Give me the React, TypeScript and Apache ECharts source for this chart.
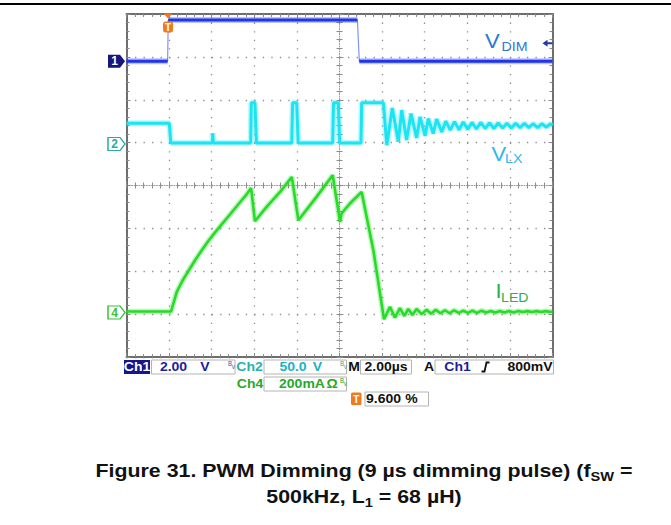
import React, { useEffect, useRef } from 'react';
import * as echarts from 'echarts';

// Time axis in µs (2 µs/div, 10 div), vertical in screen divisions (8 div)
const timeMin = 0;
const timeMax = 20;
const timeStep = 2;
const divMin = 0;
const divMax = 8;

// Ch1 – V_DIM (levels in divisions)
const ch1Time = [0, 1.93, 1.96, 10.84, 10.93, 20];
const ch1Level = [6.9, 6.9, 7.86, 7.86, 6.9, 6.9];

// Ch2 – V_LX
const ch2Points: [number, number][] = [
  [0, 5.45], [2.01, 5.45], [2.08, 4.99], [4.03, 4.99], [4.05, 5.22], [4.08, 4.99],
  [5.83, 4.99], [5.86, 5.93], [6.03, 5.93], [6.10, 4.99],
  [7.76, 4.99], [7.80, 5.93], [7.99, 5.93], [8.06, 4.99],
  [9.68, 4.99], [9.72, 5.93], [9.94, 5.93], [10.01, 4.99],
  [11.01, 4.99], [11.04, 5.93], [12.06, 5.93],
  [12.22, 4.94], [12.48, 5.81], [12.76, 5.02], [12.92, 5.76], [13.15, 5.06], [13.36, 5.68],
  [13.62, 5.11], [13.78, 5.60], [14.02, 5.16], [14.17, 5.56], [14.40, 5.21], [14.56, 5.55],
  [14.80, 5.25], [14.99, 5.50], [15.20, 5.29], [15.40, 5.49], [15.61, 5.30], [15.81, 5.48],
  [16.02, 5.31], [16.22, 5.47], [16.43, 5.32], [16.63, 5.47], [16.84, 5.33], [17.04, 5.46],
  [17.25, 5.33], [17.45, 5.46], [17.66, 5.34], [17.86, 5.45], [18.07, 5.34], [18.27, 5.45],
  [18.48, 5.35], [18.68, 5.45], [18.89, 5.35], [19.09, 5.44], [19.30, 5.35], [19.50, 5.44],
  [19.71, 5.36], [19.91, 5.44], [20, 5.40],
];

// Ch4 – I_LED
const ch4Points: [number, number][] = [
  [0, 1.06], [2.09, 1.06], [2.36, 1.52], [2.65, 1.80], [2.95, 2.04], [3.25, 2.28], [3.55, 2.50],
  [3.85, 2.71], [4.15, 2.90], [4.45, 3.08], [4.75, 3.26], [5.05, 3.44], [5.35, 3.62], [5.65, 3.80],
  [5.85, 3.94], [6.03, 3.17], [6.58, 3.50], [7.21, 3.85],
  [7.76, 4.20], [8.07, 3.19], [8.93, 3.74], [9.68, 4.24], [9.94, 3.43], [10.02, 3.15], [10.10, 3.35],
  [10.49, 3.58], [11.04, 3.85], [11.59, 2.49], [12.09, 0.88],
  [12.37, 1.17], [12.60, 0.92], [12.84, 1.14], [13.04, 0.96], [13.23, 1.12], [13.42, 0.98],
  [13.62, 1.12], [13.86, 1.00], [14.09, 1.10], [14.30, 1.01], [14.52, 1.10], [14.74, 1.02],
  [14.95, 1.09], [15.17, 1.02], [15.38, 1.09], [15.60, 1.03], [15.81, 1.08], [16.03, 1.03],
  [16.24, 1.08], [16.46, 1.03], [16.67, 1.08], [16.89, 1.04], [17.10, 1.07], [17.32, 1.04],
  [17.53, 1.07], [17.75, 1.04], [17.96, 1.07], [18.18, 1.04], [18.39, 1.07], [18.61, 1.05],
  [18.82, 1.07], [19.04, 1.05], [19.25, 1.07], [19.47, 1.05], [19.68, 1.07], [19.90, 1.05], [20, 1.06],
];

const ch1Ground = 6.9;
const ch2Ground = 4.99;
const ch4Ground = 1.06;
const triggerTime = 1.95;
const triggerLevel = 7.32;

const C1 = '#1f35e6';
const C2 = '#1de4f2';
const C4 = '#26dc26';
const GRID = '#8c8c8c';
const SANS = 'Liberation Sans, Arial, sans-serif';

function ch1Thick(): (number | null)[][] {
  const out: (number | null)[][] = [];
  for (let i = 0; i < ch1Time.length; i++) {
    out.push([ch1Time[i], ch1Level[i]]);
    if (i < ch1Time.length - 1 && ch1Level[i + 1] !== ch1Level[i]) {
      out.push([ch1Time[i], null]);
    }
  }
  return out;
}

const markerPath = 'path://M0,0 L12,0 L17,6.5 L12,13 L0,13 Z';

function xAxisDef(extra: any) {
  return {
    type: 'value', min: timeMin, max: timeMax, interval: timeStep,
    axisLabel: { show: false }, splitLine: { show: false },
    ...extra,
  };
}
function yAxisDef(extra: any) {
  return {
    type: 'value', min: divMin, max: divMax, interval: 1,
    axisLabel: { show: false }, splitLine: { show: false },
    ...extra,
  };
}

const border = { show: true, onZero: false, lineStyle: { color: '#6e6e6e', width: 2 } };
const tickIn = { show: true, inside: true, length: 4, lineStyle: { color: GRID } };
const tickOut = { show: true, inside: false, length: 3, lineStyle: { color: GRID } };
const minor = { show: true, splitNumber: 5, length: 3, lineStyle: { color: GRID } };
const centerLine = { show: true, onZero: false, lineStyle: { color: '#9a9a9a', width: 1, type: [1, 1.5] } };

function txt(x: number, y: number, text: string, color: string, size = 12.5, align = 'center', weight = 'bold', sx = 1.12) {
  return {
    type: 'text', x, y, scaleX: sx, silent: true,
    style: { text, fill: color, font: `${weight} ${size}px ${SANS}`, align, verticalAlign: 'middle' },
  };
}
function box(x: number, y: number, w: number, h: number) {
  return { type: 'rect', shape: { x, y, width: w, height: h }, style: { fill: '#fff', stroke: '#b4b4b4', lineWidth: 1 }, silent: true };
}

export default function App() {
  const ref = useRef<HTMLDivElement>(null);
  useEffect(() => {
    if (!ref.current) return;
    const chart = echarts.init(ref.current, null, { renderer: 'svg' });
    const option: any = {
      animation: false,
      backgroundColor: '#ffffff',
      grid: { left: 126.5, top: 14, width: 426, height: 343, show: false },
      xAxis: [
        xAxisDef({ position: 'bottom', axisLine: border, axisTick: tickIn, minorTick: minor,
          splitLine: { show: true, lineStyle: { color: GRID, width: 1.3, type: [1.3, 7.275] } } }),
        xAxisDef({ position: 'top', axisLine: border, axisTick: tickIn, minorTick: minor }),
        xAxisDef({ position: 'bottom', offset: -171.5, axisLine: centerLine, axisTick: tickIn, minorTick: minor }),
        xAxisDef({ position: 'bottom', offset: -171.5, axisLine: { show: false }, axisTick: tickOut, minorTick: minor }),
      ],
      yAxis: [
        yAxisDef({ position: 'left', axisLine: border, axisTick: tickIn, minorTick: minor,
          splitLine: { show: true, lineStyle: { color: GRID, width: 1.3, type: [1.3, 7.22] } } }),
        yAxisDef({ position: 'right', axisLine: border, axisTick: tickIn, minorTick: minor }),
        yAxisDef({ position: 'left', offset: -213, axisLine: centerLine, axisTick: tickIn, minorTick: minor }),
        yAxisDef({ position: 'left', offset: -213, axisLine: { show: false }, axisTick: tickOut, minorTick: minor }),
      ],
      series: [
        // Ch1 edges (thin) + levels (thick)
        {
          type: 'line', name: 'Ch1 edges', showSymbol: false, silent: true,
          data: ch1Time.map((t, i) => [t, ch1Level[i]]),
          lineStyle: { color: '#8592f2', width: 1.2 },
        },
        {
          type: 'line', name: 'Ch1 halo', showSymbol: false, silent: true, connectNulls: false,
          data: ch1Thick(), lineStyle: { color: C1, width: 6, opacity: 0.3 },
        },
        {
          type: 'line', name: 'Ch1', showSymbol: false, silent: true, connectNulls: false,
          data: ch1Thick(), lineStyle: { color: C1, width: 3 },
          markPoint: {
            silent: true, animation: false,
            data: [
              { coord: [timeMin, ch1Ground], symbol: markerPath, symbolSize: [17, 13], symbolOffset: [-10, 0],
                itemStyle: { color: '#16167c' },
                label: { show: true, formatter: '1', color: '#fff', fontWeight: 'bold', fontSize: 12, fontFamily: SANS, offset: [-2, 0] } },
              { coord: [timeMax, triggerLevel], symbol: 'path://M0,3.5 L5,0 L5,2.5 L10,2.5 L10,4.5 L5,4.5 L5,7 Z',
                symbolSize: [10, 7], symbolOffset: [-5, 0], itemStyle: { color: '#2436a8' }, label: { show: false } },
              { coord: [triggerTime, divMax], symbol: 'triangle', symbolRotate: 180, symbolSize: [9, 5], symbolOffset: [0, 2],
                itemStyle: { color: '#f07a1e' }, label: { show: false } },
              { coord: [triggerTime, divMax], symbol: 'roundRect', symbolSize: [10, 11], symbolOffset: [0, 13],
                itemStyle: { color: '#f07a1e' },
                label: { show: true, formatter: 'T', color: '#fff', fontWeight: 'bold', fontSize: 10, fontFamily: SANS } },
            ],
          },
        },
        {
          type: 'line', name: 'Ch2 halo', showSymbol: false, silent: true,
          data: ch2Points, lineStyle: { color: C2, width: 6, opacity: 0.3 },
        },
        {
          type: 'line', name: 'Ch2', showSymbol: false, silent: true,
          data: ch2Points, lineStyle: { color: C2, width: 3 },
          markPoint: {
            silent: true, animation: false,
            data: [
              { coord: [timeMin, ch2Ground], symbol: markerPath, symbolSize: [17, 13], symbolOffset: [-10, 1],
                itemStyle: { color: '#fff', borderColor: '#2aa8aa', borderWidth: 1.3 },
                label: { show: true, formatter: '2', color: '#2aa8aa', fontWeight: 'bold', fontSize: 12, fontFamily: SANS, offset: [-2, 0] } },
            ],
          },
        },
        {
          type: 'line', name: 'Ch4 halo', showSymbol: false, silent: true,
          data: ch4Points, lineStyle: { color: C4, width: 5.5, opacity: 0.3 },
        },
        {
          type: 'line', name: 'Ch4', showSymbol: false, silent: true,
          data: ch4Points, lineStyle: { color: C4, width: 2.6 },
          markPoint: {
            silent: true, animation: false,
            data: [
              { coord: [timeMin, ch4Ground], symbol: markerPath, symbolSize: [17, 13], symbolOffset: [-10, 1],
                itemStyle: { color: '#fff', borderColor: '#36c236', borderWidth: 1.3 },
                label: { show: true, formatter: '4', color: '#36c236', fontWeight: 'bold', fontSize: 12, fontFamily: SANS, offset: [-2, 0] } },
            ],
          },
        },
      ],
      graphic: [
        { type: 'rect', shape: { x: 0, y: 3, width: 671, height: 2 }, style: { fill: '#000' }, silent: true },
        // channel labels
        txt(485, 41, 'V', '#2a78d2', 21, 'left', 'normal', 1.05),
        txt(501.5, 46.5, 'DIM', '#2a78d2', 13.5, 'left', 'normal', 1.05),
        txt(491.5, 154.5, 'V', '#30b6ee', 21, 'left', 'normal', 1.05),
        txt(505, 158.5, 'LX', '#30b6ee', 13.5, 'left', 'normal', 1.05),
        txt(495.5, 291.5, 'I', '#2fae4c', 21, 'left', 'normal', 1.05),
        txt(501, 297.5, 'LED', '#2fae4c', 13.5, 'left', 'normal', 1.05),
        // readout panel row 1
        { type: 'rect', shape: { x: 124, y: 360, width: 26, height: 14 }, style: { fill: '#16168a' }, silent: true },
        txt(137, 367, 'Ch1', '#ffffff'),
        box(151.5, 360, 83.5, 14),
        txt(173.5, 367, '2.00', '#1c1ca0'),
        txt(205, 367, 'V', '#1c1ca0'),
        txt(231.5, 365, 'ᴮᵥ', '#4a58b0', 9, 'center', 'normal', 1),
        txt(249.5, 367, 'Ch2', '#2ab0b0'),
        box(264, 360, 82.5, 14),
        txt(293, 367, '50.0', '#19b3c3'),
        txt(317.5, 367, 'V', '#19b3c3'),
        txt(343.5, 365, 'ᴮᵥ', '#2ab0b0', 9, 'center', 'normal', 1),
        txt(354, 367, 'M', '#111'),
        box(360.5, 360, 51, 14),
        txt(386, 367, '2.00µs', '#111'),
        txt(429, 367, 'A', '#111'),
        box(435, 360, 118.5, 14),
        txt(457.5, 367, 'Ch1', '#1c1ca0'),
        { type: 'polyline', shape: { points: [[481.5, 371.5], [484.5, 371.5], [486.5, 362.5], [489.5, 362.5]] },
          style: { stroke: '#111', lineWidth: 1.8, fill: null }, silent: true },
        txt(530, 367, '800mV', '#111'),
        // row 2
        txt(250, 384, 'Ch4', '#28a828'),
        box(264, 377, 82.5, 14),
        txt(302, 384, '200mA', '#28a828'),
        txt(332, 384, 'Ω', '#28a828'),
        txt(343.5, 382, 'ᴮᵥ', '#28a828', 9, 'center', 'normal', 1),
        // row 3
        { type: 'rect', shape: { x: 351, y: 392.5, width: 10.5, height: 12.5, r: 1.5 }, style: { fill: '#f07a1e' }, silent: true },
        txt(356.3, 399, 'T', '#fff', 10, 'center', 'bold', 1),
        box(365, 392, 63.5, 14),
        txt(383.5, 399, '9.600', '#111'),
        txt(411.5, 399, '%', '#111'),
        // caption
        {
          type: 'text', x: 364, y: 471, scaleX: 1.22, silent: true,
          style: {
            text: '{b|Figure 31. PWM Dimming (9 µs dimming pulse) (f}{s|SW}{b| =}',
            align: 'center', verticalAlign: 'middle',
            rich: {
              b: { font: `bold 17.5px ${SANS}`, fill: '#111', lineHeight: 24 },
              s: { font: `bold 12px ${SANS}`, fill: '#111', lineHeight: 12, verticalAlign: 'bottom' },
            },
          },
        },
        {
          type: 'text', x: 364, y: 497, scaleX: 1.22, silent: true,
          style: {
            text: '{b|500kHz, L}{s|1}{b| = 68 µH)}',
            align: 'center', verticalAlign: 'middle',
            rich: {
              b: { font: `bold 17.5px ${SANS}`, fill: '#111', lineHeight: 24 },
              s: { font: `bold 12px ${SANS}`, fill: '#111', lineHeight: 12, verticalAlign: 'bottom' },
            },
          },
        },
      ],
    };
    chart.setOption(option);
    return () => chart.dispose();
  }, []);
  return <div ref={ref} style={{ position: 'fixed', left: 0, top: 0, width: 671, height: 525 }} />;
}
